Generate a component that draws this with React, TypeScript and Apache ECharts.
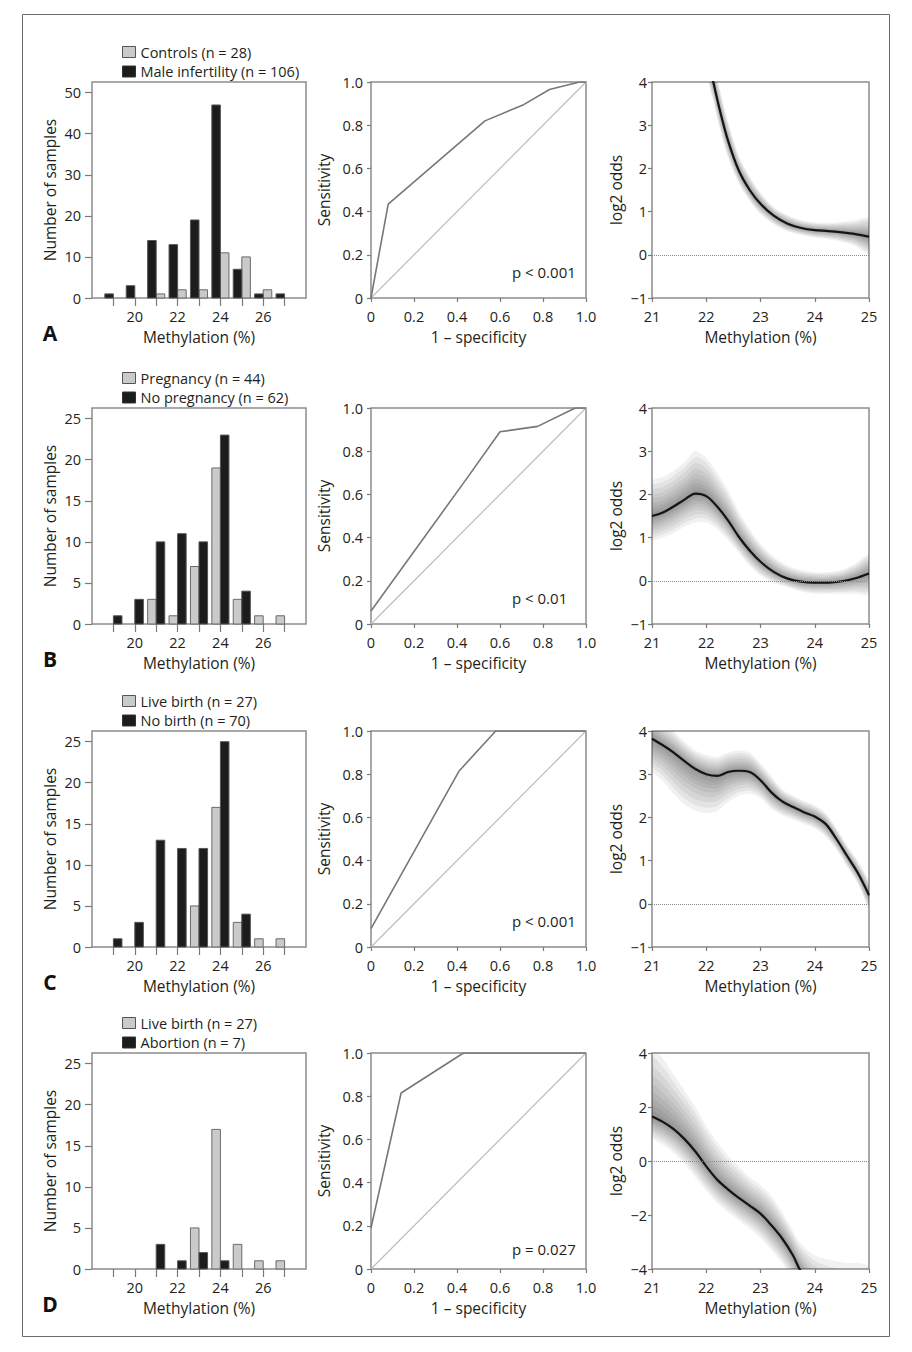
import React, { useEffect, useRef } from "react";
import * as echarts from "echarts";

const FONT = "Open Sans";
const TEXT = "#231f20";
const BOX = "#8c8c8c";
const TICK = "#7a7a7a";

// ---------- Histograms (column 1) ----------
const bins = [19, 20, 21, 22, 23, 24, 25, 26, 27];
const histTickValues = [19, 20, 21, 22, 23, 24, 25, 26, 27];
const histLabelValues = [20, 22, 24, 26];

const grayA = [0, 0, 1, 2, 2, 11, 10, 2, 0];
const blackA = [1, 3, 14, 13, 19, 47, 7, 1, 1];
const grayB = [0, 0, 3, 1, 7, 19, 3, 1, 1];
const blackB = [1, 3, 10, 11, 10, 23, 4, 0, 0];
const grayC = [0, 0, 0, 0, 5, 17, 3, 1, 1];
const blackC = [1, 3, 13, 12, 12, 25, 4, 0, 0];
const grayD = [0, 0, 0, 0, 5, 17, 3, 1, 1];
const blackD = [0, 0, 3, 1, 2, 1, 0, 0, 0];

const legendGray = ["Controls (n = 28)", "Pregnancy (n = 44)", "Live birth (n = 27)", "Live birth (n = 27)"];
const legendBlack = ["Male infertility (n = 106)", "No pregnancy (n = 62)", "No birth (n = 70)", "Abortion (n = 7)"];

const histYTicksA = [0, 10, 20, 30, 40, 50];
const histYTicksBCD = [0, 5, 10, 15, 20, 25];

// ---------- ROC curves (column 2) ----------
const rocA_fpr = [0, 0.08, 0.53, 0.71, 0.83, 0.97, 1];
const rocA_tpr = [0, 0.435, 0.82, 0.895, 0.965, 1, 1];
const rocB_fpr = [0, 0.45, 0.6, 0.775, 0.95, 1];
const rocB_tpr = [0.06, 0.68, 0.89, 0.915, 1, 1];
const rocC_fpr = [0, 0.41, 0.58, 1];
const rocC_tpr = [0.085, 0.815, 1, 1];
const rocD_fpr = [0, 0.14, 0.43, 1];
const rocD_tpr = [0.19, 0.815, 1, 1];
const pValues = ["p < 0.001", "p < 0.01", "p < 0.001", "p = 0.027"];

// ---------- log2 odds (column 3) ----------
const oddsA_x = [22.05, 22.13, 22.25, 22.4, 22.6, 22.8, 23.0, 23.25, 23.5, 23.75, 24.0, 24.25, 24.5, 24.75, 25.0];
const oddsA_y = [4.45, 4.0, 3.35, 2.65, 1.95, 1.5, 1.18, 0.9, 0.72, 0.62, 0.57, 0.55, 0.52, 0.48, 0.42];
const oddsA_hi = [5.0, 4.5, 3.85, 3.1, 2.3, 1.82, 1.44, 1.1, 0.92, 0.8, 0.75, 0.74, 0.76, 0.8, 0.85];
const oddsA_lo = [3.95, 3.55, 2.9, 2.25, 1.65, 1.24, 0.94, 0.7, 0.54, 0.46, 0.4, 0.36, 0.3, 0.2, 0.04];

const oddsB_x = [21.0, 21.2, 21.4, 21.6, 21.8, 22.0, 22.2, 22.4, 22.6, 22.8, 23.0, 23.25, 23.5, 23.75, 24.0, 24.25, 24.5, 24.75, 25.0];
const oddsB_y = [1.5, 1.58, 1.72, 1.88, 2.02, 1.96, 1.72, 1.4, 1.02, 0.7, 0.44, 0.2, 0.05, -0.02, -0.04, -0.04, -0.01, 0.06, 0.17];
const oddsB_hi = [2.3, 2.4, 2.55, 2.75, 3.0, 2.85, 2.5, 2.1, 1.6, 1.2, 0.85, 0.55, 0.35, 0.25, 0.2, 0.2, 0.25, 0.4, 0.6];
const oddsB_lo = [0.95, 1.0, 1.1, 1.25, 1.35, 1.35, 1.2, 0.95, 0.65, 0.35, 0.12, -0.05, -0.15, -0.25, -0.3, -0.3, -0.3, -0.3, -0.3];

const oddsC_x = [21.0, 21.2, 21.4, 21.6, 21.8, 22.0, 22.2, 22.4, 22.6, 22.8, 23.0, 23.2, 23.4, 23.6, 23.8, 24.0, 24.2, 24.4, 24.6, 24.8, 25.0];
const oddsC_y = [3.82, 3.67, 3.5, 3.3, 3.12, 3.0, 2.96, 3.05, 3.08, 3.05, 2.86, 2.58, 2.37, 2.24, 2.12, 2.02, 1.85, 1.5, 1.1, 0.7, 0.2];
const oddsC_hi = [4.4, 4.2, 4.0, 3.75, 3.55, 3.45, 3.4, 3.5, 3.55, 3.5, 3.25, 2.95, 2.65, 2.5, 2.38, 2.28, 2.1, 1.75, 1.35, 0.98, 0.5];
const oddsC_lo = [3.1, 2.85, 2.55, 2.3, 2.15, 2.1, 2.15, 2.35, 2.5, 2.55, 2.45, 2.2, 2.05, 1.95, 1.85, 1.75, 1.55, 1.25, 0.85, 0.45, -0.1];

const oddsD_x = [21.0, 21.2, 21.4, 21.6, 21.8, 22.0, 22.2, 22.4, 22.6, 22.8, 23.0, 23.2, 23.4, 23.6, 23.72, 24.0, 24.5, 25.0];
const oddsD_y = [1.65, 1.45, 1.18, 0.81, 0.35, -0.2, -0.69, -1.05, -1.37, -1.65, -1.95, -2.38, -2.87, -3.5, -4.0, -4.9, -6.0, -7.0];
const oddsD_hi = [4.2, 3.8, 3.2, 2.6, 2.0, 1.3, 0.7, 0.2, -0.2, -0.6, -0.9, -1.3, -1.9, -2.6, -3.0, -3.5, -3.75, -3.95];
const oddsD_lo = [0.9, 0.6, 0.3, -0.1, -0.6, -1.1, -1.55, -1.9, -2.2, -2.5, -2.85, -3.3, -3.8, -4.4, -4.8, -5.5, -6.5, -7.5];

const oddsYTicksABC = [-1, 0, 1, 2, 3, 4];
const oddsYTicksD = [-4, -2, 0, 2, 4];
const panelLetters = ["A", "B", "C", "D"];

// ---------- layout ----------
const ROW_TOP = [82, 408, 731, 1053];
const PLOT_H = 216;
const COL_LEFT = [92, 371, 652];
const COL_W = [214, 215, 217];
const BAR_W = 0.4;
const LAYERS = [1, 0.86, 0.72, 0.58, 0.46, 0.35, 0.25, 0.16, 0.08];

const tickText = { fontFamily: FONT, fontSize: 14.5, color: TEXT, lineHeight: 16 };
const nameText = { fontFamily: FONT, fontSize: 15.5, color: TEXT, lineHeight: 16 };
const minus = (v: number) => (v < 0 ? "\u2212" + Math.abs(v) : String(v));

function buildOption() {
  const grids: any[] = [];
  const xAxes: any[] = [];
  const yAxes: any[] = [];
  const series: any[] = [];
  const legends: any[] = [];
  const graphics: any[] = [];

  const hist = [
    [grayA, blackA],
    [grayB, blackB],
    [grayC, blackC],
    [grayD, blackD],
  ];
  const blackLeft = [true, false, false, false];
  const rocs = [
    [rocA_fpr, rocA_tpr],
    [rocB_fpr, rocB_tpr],
    [rocC_fpr, rocC_tpr],
    [rocD_fpr, rocD_tpr],
  ];
  const odds = [
    [oddsA_x, oddsA_y, oddsA_hi, oddsA_lo],
    [oddsB_x, oddsB_y, oddsB_hi, oddsB_lo],
    [oddsC_x, oddsC_y, oddsC_hi, oddsC_lo],
    [oddsD_x, oddsD_y, oddsD_hi, oddsD_lo],
  ];

  const tickStyle = { color: TICK, width: 1.2 };
  const noLine = { show: false, onZero: false };
  const X_MARGIN = 10;
  const X_NAMEGAP = 31;

  for (let r = 0; r < 4; r++) {
    const top = ROW_TOP[r];
    // ---- histogram ----
    let gi = grids.length;
    grids.push({ left: COL_LEFT[0], top, width: COL_W[0], height: PLOT_H, show: true, borderColor: BOX, borderWidth: 1.5, backgroundColor: "transparent" });
    xAxes.push({
      type: "value", gridIndex: gi, min: 18, max: 28,
      axisLine: noLine, splitLine: { show: false },
      axisTick: { show: true, customValues: histTickValues, length: 8, lineStyle: tickStyle },
      axisLabel: { customValues: histLabelValues, margin: X_MARGIN, ...tickText },
      name: "Methylation (%)", nameLocation: "middle", nameGap: X_NAMEGAP, nameTextStyle: nameText,
    });
    const yt = r === 0 ? histYTicksA : histYTicksBCD;
    yAxes.push({
      type: "value", gridIndex: gi, min: 0, max: r === 0 ? 52.6 : 26.3,
      axisLine: noLine, splitLine: { show: false },
      axisTick: { show: true, customValues: yt, length: 7, lineStyle: tickStyle },
      axisLabel: { customValues: yt, margin: 11, ...tickText },
      name: "Number of samples", nameLocation: "middle", nameGap: 34, nameTextStyle: nameText,
    });
    const [g, b] = hist[r];
    const mk = (vals: number[], name: string, fill: string, stroke: string, left: boolean) => ({
      type: "custom", name, xAxisIndex: gi, yAxisIndex: gi, z: 3,
      itemStyle: { color: fill, borderColor: stroke },
      data: bins.map((bb, k) => [bb, vals[k]]).filter((d) => d[1] > 0),
      renderItem: (params: any, api: any) => {
        const bb = api.value(0);
        const v = api.value(1);
        const a = left ? bb - BAR_W : bb;
        const c = left ? bb : bb + BAR_W;
        const p0 = api.coord([a, 0]);
        const p1 = api.coord([c, v]);
        return {
          type: "rect",
          shape: { x: p0[0], y: p1[1], width: p1[0] - p0[0], height: p0[1] - p1[1] },
          style: { fill, stroke, lineWidth: 1 },
        };
      },
    });
    series.push(mk(g, legendGray[r], "#cacaca", "#6a6a6a", !blackLeft[r]));
    series.push(mk(b, legendBlack[r], "#1c1c1c", "#555555", blackLeft[r]));
    legends.push({
      orient: "vertical", left: 122, top: Math.round(top - 39.5), itemWidth: 13, itemHeight: 11, itemGap: 1.5,
      padding: 0,
      selectedMode: false, icon: "rect", textStyle: { ...nameText, fontSize: 14.5, lineHeight: 18 },
      data: [
        { name: legendGray[r], icon: "rect", itemStyle: { color: "#cacaca", borderColor: "#555", borderWidth: 1 } },
        { name: legendBlack[r], icon: "rect", itemStyle: { color: "#1c1c1c", borderColor: "#333", borderWidth: 1 } },
      ],
    });
    graphics.push({
      type: "text", x: 50, y: top + PLOT_H + 35,
      style: { text: panelLetters[r], fontFamily: FONT, fontSize: 21, fontWeight: "bold", fill: "#111", align: "center", verticalAlign: "middle" },
    });

    // ---- ROC ----
    gi = grids.length;
    grids.push({ left: COL_LEFT[1], top, width: COL_W[1], height: PLOT_H, show: true, borderColor: BOX, borderWidth: 1.5, backgroundColor: "transparent" });
    const rocFmt = (v: number) => (v === 0 ? "0" : v.toFixed(1));
    xAxes.push({
      type: "value", gridIndex: gi, min: 0, max: 1, interval: 0.2,
      axisLine: noLine, splitLine: { show: false },
      axisTick: { show: true, length: 4, lineStyle: tickStyle },
      axisLabel: { margin: X_MARGIN, formatter: rocFmt, ...tickText },
      name: "1 \u2013 specificity", nameLocation: "middle", nameGap: X_NAMEGAP, nameTextStyle: nameText,
    });
    yAxes.push({
      type: "value", gridIndex: gi, min: 0, max: 1, interval: 0.2,
      axisLine: noLine, splitLine: { show: false },
      axisTick: { show: true, length: 4, lineStyle: tickStyle },
      axisLabel: { margin: 8, formatter: rocFmt, ...tickText },
      name: "Sensitivity", nameLocation: "middle", nameGap: 39, nameTextStyle: nameText,
    });
    series.push({
      type: "line", xAxisIndex: gi, yAxisIndex: gi, data: [[0, 0], [1, 1]], showSymbol: false, silent: true,
      lineStyle: { color: "#bdbdbd", width: 1.2 },
    });
    const [fx, ty] = rocs[r];
    series.push({
      type: "line", xAxisIndex: gi, yAxisIndex: gi, data: fx.map((x, k) => [x, ty[k]]), showSymbol: false, silent: true,
      lineStyle: { color: "#777777", width: 1.6 },
    });
    graphics.push({
      type: "text", x: 512, y: top + PLOT_H - (r === 3 ? 20 : 26),
      style: { text: pValues[r], fontFamily: FONT, fontSize: 15, fill: TEXT, align: "left", verticalAlign: "middle" },
    });

    // ---- log2 odds ----
    gi = grids.length;
    grids.push({ left: COL_LEFT[2], top, width: COL_W[2], height: PLOT_H, show: true, borderColor: BOX, borderWidth: 1.5, backgroundColor: "transparent" });
    xAxes.push({
      type: "value", gridIndex: gi, min: 21, max: 25, interval: 1,
      axisLine: noLine, splitLine: { show: false },
      axisTick: { show: true, length: 4, lineStyle: tickStyle },
      axisLabel: { margin: X_MARGIN, ...tickText },
      name: "Methylation (%)", nameLocation: "middle", nameGap: X_NAMEGAP, nameTextStyle: nameText,
    });
    const oyt = r === 3 ? oddsYTicksD : oddsYTicksABC;
    yAxes.push({
      type: "value", gridIndex: gi, min: oyt[0], max: oyt[oyt.length - 1], interval: r === 3 ? 2 : 1,
      axisLine: noLine, splitLine: { show: false },
      axisTick: { show: true, length: 4, lineStyle: tickStyle },
      axisLabel: { margin: 5, formatter: minus, ...tickText },
      name: "log2 odds", nameLocation: "middle", nameGap: 28, nameTextStyle: nameText,
    });
    const [ox, oy, ohi, olo] = odds[r];
    series.push({
      type: "custom", xAxisIndex: gi, yAxisIndex: gi, clip: true, silent: true, z: 1,
      data: [[ox[0], oy[0]]],
      renderItem: (params: any, api: any) => {
        const children = LAYERS.map((t) => {
          const upper = ox.map((xx, k) => api.coord([xx, oy[k] + t * (ohi[k] - oy[k])]));
          const lower = ox.map((xx, k) => api.coord([xx, oy[k] + t * (olo[k] - oy[k])])).reverse();
          return {
            type: "polygon",
            shape: { points: upper.concat(lower), smooth: 0.3 },
            style: { fill: "rgba(25,25,25,0.06)" },
          };
        });
        return { type: "group", children };
      },
    });
    series.push({
      type: "line", xAxisIndex: gi, yAxisIndex: gi, data: ox.map((x, k) => [x, oy[k]]),
      showSymbol: false, smooth: 0.35, silent: true, z: 3, clip: true,
      lineStyle: { color: "#141414", width: 2.2 },
      markLine: {
        silent: true, symbol: ["none", "none"], label: { show: false },
        lineStyle: { type: "dotted", color: "#8a8a8a", width: 1 },
        data: [{ yAxis: 0 }],
      },
    });
  }

  graphics.unshift({
    type: "rect", silent: true, z: -1,
    shape: { x: 22.5, y: 14.5, width: 867, height: 1322 },
    style: { fill: "none", stroke: "#6b6b6b", lineWidth: 1 },
  });

  return {
    animation: false,
    backgroundColor: "#ffffff",
    grid: grids,
    xAxis: xAxes,
    yAxis: yAxes,
    legend: legends,
    series,
    graphic: graphics,
  };
}

export default function App() {
  const ref = useRef<HTMLDivElement>(null);
  useEffect(() => {
    document.body.style.margin = "0";
    document.body.style.overflow = "hidden";
    if (!ref.current) return;
    const chart = echarts.init(ref.current, undefined, { renderer: "svg" });
    chart.setOption(buildOption() as any);
    return () => chart.dispose();
  }, []);
  return <div ref={ref} style={{ width: 912, height: 1352 }} />;
}
